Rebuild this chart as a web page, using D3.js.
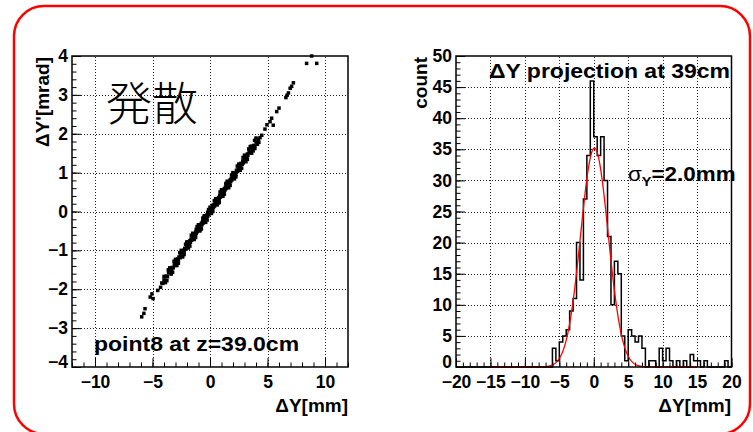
<!DOCTYPE html>
<html>
<head>
<meta charset="utf-8">
<script src="https://cdn.jsdelivr.net/npm/d3@7"></script>
<style>
  body { margin: 0; background: #fff; }
  svg { display: block; }
  text { font-family: "Liberation Sans", Arial, Helvetica, sans-serif; font-weight: bold; fill: #000; }
</style>
</head>
<body>
<svg id="chart" width="753" height="432"></svg>
<script>
// ---- data ----

// left panel: ΔY [mm] vs ΔY' [mrad]
var scatterX = [
  -5.94,-5.75,-5.65,-5.2,-4.95,-5.05,-4.55,
  -4.3,-4.2,-4.1,-4.0,-3.9,-3.8,-3.7,-3.6,-3.5,-3.45,-3.35,-3.3,-3.2,-3.1,-3.05,-2.95,-2.9,-2.8,-2.75,-2.7,-2.6,-2.55,-2.5,
  -2.4,-2.35,-2.3,-2.25,-2.2,-2.1,-2.05,-2.0,-1.95,-1.9,-1.85,-1.8,-1.75,-1.7,-1.65,-1.6,-1.55,-1.5,-1.45,-1.4,-1.35,-1.3,
  -1.25,-1.2,-1.15,-1.1,-1.05,-1.0,-0.95,-0.9,-0.85,-0.8,-0.75,-0.7,-0.65,-0.6,-0.55,-0.5,-0.45,-0.4,-0.35,-0.3,-0.25,-0.2,
  -0.15,-0.1,-0.05,0.0,0.05,0.1,0.15,0.2,0.25,0.3,0.35,0.4,0.45,0.5,0.55,0.6,0.65,0.7,0.75,0.8,0.85,0.9,0.95,1.0,1.05,1.1,
  1.15,1.2,1.25,1.3,1.35,1.4,1.45,1.5,1.55,1.6,1.65,1.7,1.75,1.8,1.85,1.9,1.95,2.0,2.05,2.1,2.2,2.25,2.3,2.4,2.45,2.5,2.6,
  2.65,2.7,2.8,2.85,2.9,3.0,3.05,3.1,3.2,3.25,3.3,3.4,3.5,3.6,3.7,3.8,3.9,4.0,4.1,4.2,4.35,
  -1.0,-0.5,0.5,1.0,-1.5,1.5,-2.0,2.0,0.2,-0.2,0.8,-0.8,1.2,-1.2,3.6,3.9,
  -4.0,-3.75,-3.5,-3.25,-3.0,-2.75,-2.5,-2.25,-2.0,-1.75,-1.5,-1.25,-1.0,-0.75,-0.5,-0.25,0.0,
  0.25,0.5,0.75,1.0,1.25,1.5,1.75,2.0,2.25,2.5,2.75,3.0,3.25,3.5,3.75,4.0,4.25,
  -3.875,-3.625,-3.375,-3.125,-2.875,-2.625,-2.375,-2.125,-1.875,-1.625,-1.375,-1.125,-0.875,-0.625,-0.375,-0.125,
  0.125,0.375,0.625,0.875,1.125,1.375,1.625,1.875,2.125,2.375,2.625,2.875,3.125,3.375,3.625,3.875,4.125,
  4.5,4.78,4.95,5.22,5.36,5.5,5.8,6.0,6.6,6.7,6.82,6.97,7.1,7.25,8.4,9.28,8.84
];
var scatterY = [
  -2.71,-2.62,-2.5,-2.2,-2.24,-2.12,-2.03,
  -1.95,-1.84,-1.85,-1.76,-1.77,-1.66,-1.68,-1.57,-1.58,-1.51,-1.52,-1.44,-1.45,-1.36,-1.39,-1.29,-1.33,-1.22,-1.25,-1.17,-1.19,-1.11,-1.14,
  -1.04,-1.1,-1.0,-1.03,-0.95,-0.97,-0.88,-0.92,-0.84,-0.88,-0.8,-0.83,-0.75,-0.79,-0.71,-0.74,-0.66,-0.7,-0.62,-0.66,-0.57,-0.61,
  -0.53,-0.57,-0.49,-0.52,-0.44,-0.48,-0.4,-0.44,-0.35,-0.39,-0.3,-0.34,-0.26,-0.3,-0.21,-0.26,-0.17,-0.21,-0.13,-0.17,-0.08,-0.12,
  -0.04,-0.08,0.0,-0.03,0.05,0.01,0.09,0.05,0.14,0.1,0.18,0.14,0.23,0.19,0.27,0.23,0.32,0.28,0.36,0.32,0.41,0.37,0.45,0.41,0.5,0.46,
  0.54,0.5,0.59,0.55,0.63,0.59,0.68,0.63,0.72,0.68,0.76,0.72,0.81,0.77,0.85,0.81,0.9,0.86,0.94,0.9,0.99,0.95,1.06,1.03,1.12,1.08,1.18,
  1.13,1.24,1.21,1.3,1.25,1.36,1.31,1.42,1.4,1.48,1.44,1.54,1.52,1.63,1.6,1.7,1.68,1.79,1.77,1.86,1.9,
  -0.36,-0.14,0.3,0.52,-0.6,0.74,-0.8,0.98,0.16,-0.02,0.24,-0.46,0.44,-0.46,1.68,1.62,
  -1.67,-1.78,-1.45,-1.56,-1.23,-1.33,-1.0,-1.11,-0.78,-0.89,-0.56,-0.67,-0.34,-0.44,-0.11,-0.22,0.11,
  0.0,0.33,0.22,0.56,0.45,0.78,0.67,1.0,0.89,1.22,1.11,1.45,1.34,1.67,1.56,1.89,1.78,
  -1.83,-1.5,-1.61,-1.28,-1.39,-1.06,-1.17,-0.84,-0.94,-0.61,-0.72,-0.39,-0.5,-0.17,-0.28,0.05,
  -0.05,0.28,0.17,0.5,0.39,0.72,0.61,0.94,0.84,1.17,1.06,1.39,1.28,1.61,1.5,1.83,1.73,
  1.96,2.12,2.23,2.31,2.4,2.22,2.57,2.66,2.93,2.99,3.05,3.17,3.22,3.31,3.81,3.81,4.0
];

// right panel: ΔY projection, 80 bins of 0.5 mm from -20 to 20
var histRange = [-20, 20];
var histCounts = [
  0,0,0,0,0,0,0,0,0,0,
  0,0,0,0,0,0,0,0,0,0,
  0,0,0,0,0,0,0,0,3,1,
  4,5,6,9,11,20,14,27,34,46,
  37,34,37,30,21,10,17,15,5,1,
  6,5,4,5,3,0,1,1,0,3,
  1,3,1,0,1,0,1,0,2,1,
  1,0,1,0,0,0,0,0,1,0
];

// gaussian fit shown in red
var fitConst = 35.2, fitMean = 0.1, fitSigma = 2.0;
var fitRange = [-15, 15];

// ticks
var leftXMajor = [-10, -5, 0, 5, 10];
var leftYMajor = [-4, -3, -2, -1, 0, 1, 2, 3, 4];
var rightXMajor = [-20, -15, -10, -5, 0, 5, 10, 15, 20];
var rightYMajor = [0, 5, 10, 15, 20, 25, 30, 35, 40, 45, 50];

// ---- drawing ----
var svg = d3.select("#chart");

svg.append("rect").attr("width", 753).attr("height", 432).attr("fill", "#fff");

// red rounded box round the slide content
svg.append("rect")
  .attr("x", 14).attr("y", 6)
  .attr("width", 736).attr("height", 428)
  .attr("rx", 30).attr("ry", 30)
  .attr("fill", "none")
  .attr("stroke", "#ff0000")
  .attr("stroke-width", 2.5);

var fmt = d3.format("d");

function drawGrid(g, x, y, xs, ys) {
  g.selectAll(".gx").data(xs).join("line")
    .attr("x1", d => Math.round(x(d)) + 0.5).attr("x2", d => Math.round(x(d)) + 0.5)
    .attr("y1", y.range()[0]).attr("y2", y.range()[1])
    .attr("stroke", "#222").attr("stroke-width", 1).attr("stroke-dasharray", "1,2");
  g.selectAll(".gy").data(ys).join("line")
    .attr("y1", d => Math.round(y(d)) + 0.5).attr("y2", d => Math.round(y(d)) + 0.5)
    .attr("x1", x.range()[0]).attr("x2", x.range()[1])
    .attr("stroke", "#222").attr("stroke-width", 1).attr("stroke-dasharray", "1,2");
}

function drawAxes(g, x, y, xMajor, xMinor, yMajor, yMinor) {
  var y0 = y.range()[0], x0 = x.range()[0];

  var bx = g.append("g").attr("transform", "translate(0," + y0 + ")")
    .call(d3.axisBottom(x).tickValues(xMinor).tickSize(-4.5).tickFormat(""));
  var bxM = g.append("g").attr("transform", "translate(0," + y0 + ")")
    .call(d3.axisBottom(x).tickValues(xMajor).tickSize(-9).tickPadding(9).tickFormat(fmt));
  var ly = g.append("g").attr("transform", "translate(" + x0 + ",0)")
    .call(d3.axisLeft(y).tickValues(yMinor).tickSize(-4.5).tickFormat(""));
  var lyM = g.append("g").attr("transform", "translate(" + x0 + ",0)")
    .call(d3.axisLeft(y).tickValues(yMajor).tickSize(-9).tickPadding(4).tickFormat(fmt));

  [bx, bxM, ly, lyM].forEach(function (a) {
    a.select(".domain").remove();
    a.selectAll("line").attr("stroke", "#000").attr("stroke-width", 1);
    a.selectAll("text")
      .attr("font-family", "'Liberation Sans', Arial, Helvetica, sans-serif")
      .attr("font-weight", "bold").attr("font-size", 17.5).attr("fill", "#000");
  });
  // lowest y label sits a little higher so it clears the x labels
  lyM.selectAll("text").filter(d => d === y.domain()[0]).attr("dy", "0.05em");

  // frame
  g.append("rect")
    .attr("x", x.range()[0]).attr("y", y.range()[1])
    .attr("width", x.range()[1] - x.range()[0])
    .attr("height", y.range()[0] - y.range()[1])
    .attr("fill", "none").attr("stroke", "#000").attr("stroke-width", 1.5);
}

// stretched label like the original (text is wider than its height suggests)
function label(parent, x, y, str, size) {
  return parent.append("g").attr("transform", "translate(" + x + "," + y + ") scale(1.15,1)")
    .append("text").attr("font-size", size).text(str);
}

// ---------- left panel ----------
var xL = d3.scaleLinear().domain([-12, 12]).range([72, 348]);
var yL = d3.scaleLinear().domain([-4, 4]).range([367, 56]);
var gL = svg.append("g");

drawGrid(gL, xL, yL, leftXMajor, [-3, -2, -1, 0, 1, 2, 3]);

var pts = scatterX.map(function (v, i) { return [v, scatterY[i]]; });
gL.selectAll("rect.pt").data(pts).join("rect")
  .attr("class", "pt")
  .attr("x", d => xL(d[0]) - 1.75).attr("y", d => yL(d[1]) - 1.75)
  .attr("width", 3.5).attr("height", 3.5)
  .attr("fill", "#000");

drawAxes(gL, xL, yL, leftXMajor, d3.range(-12, 13, 1), leftYMajor, d3.range(-4, 4.001, 0.2));

gL.append("text").attr("x", 348).attr("y", 412).attr("text-anchor", "end")
  .attr("font-size", 19).text("ΔY[mm]");
gL.append("text").attr("transform", "translate(49,57) rotate(-90)").attr("text-anchor", "end")
  .attr("font-size", 19).text("ΔY'[mrad]");

gL.append("text").attr("x", 106).attr("y", 120)
  .style("font-family", "'Noto Sans CJK JP', sans-serif").style("font-weight", "300")
  .attr("font-size", 46).text("発散");

label(gL, 94, 351, "point8 at z=39.0cm", 20);

// ---------- right panel ----------
var xR = d3.scaleLinear().domain(histRange).range([456, 731.5]);
var yR = d3.scaleLinear().domain([0, 50]).range([367, 56]);
var gR = svg.append("g");

drawGrid(gR, xR, yR, [-15, -10, -5, 0, 5, 10, 15], [5, 10, 15, 20, 25, 30, 35, 40, 45]);

var binW = (histRange[1] - histRange[0]) / histCounts.length;
var hp = d3.path();
hp.moveTo(xR(histRange[0]), yR(0));
histCounts.forEach(function (c, i) {
  var a = histRange[0] + i * binW;
  hp.lineTo(xR(a), yR(c));
  hp.lineTo(xR(a + binW), yR(c));
});
hp.lineTo(xR(histRange[1]), yR(0));
gR.append("path").attr("d", hp.toString())
  .attr("fill", "none").attr("stroke", "#000").attr("stroke-width", 1.5);

var fitPts = d3.range(fitRange[0], fitRange[1] + 0.001, 0.05).map(function (v) {
  return [v, fitConst * Math.exp(-0.5 * Math.pow((v - fitMean) / fitSigma, 2))];
});
gR.append("path")
  .attr("d", d3.line().x(d => xR(d[0])).y(d => yR(d[1]))(fitPts))
  .attr("fill", "none").attr("stroke", "#ff0000").attr("stroke-width", 1.3);

drawAxes(gR, xR, yR, rightXMajor, d3.range(-20, 21, 1), rightYMajor, d3.range(0, 51, 1));

gR.append("text").attr("x", 731).attr("y", 412).attr("text-anchor", "end")
  .attr("font-size", 19).text("ΔY[mm]");
gR.append("text").attr("transform", "translate(427,57) rotate(-90)").attr("text-anchor", "end")
  .attr("font-size", 19).text("count");

label(gR, 489, 78, "ΔY projection at 39cm", 20);

var sig = gR.append("g").attr("transform", "translate(628,181) scale(1.12,1)").append("text")
  .attr("font-size", 20);
sig.append("tspan").style("font-weight", "normal").text("σ");
sig.append("tspan").attr("font-size", 13).attr("dy", 5).text("Y");
sig.append("tspan").attr("dy", -5).text("=2.0mm");
</script>
</body>
</html>
